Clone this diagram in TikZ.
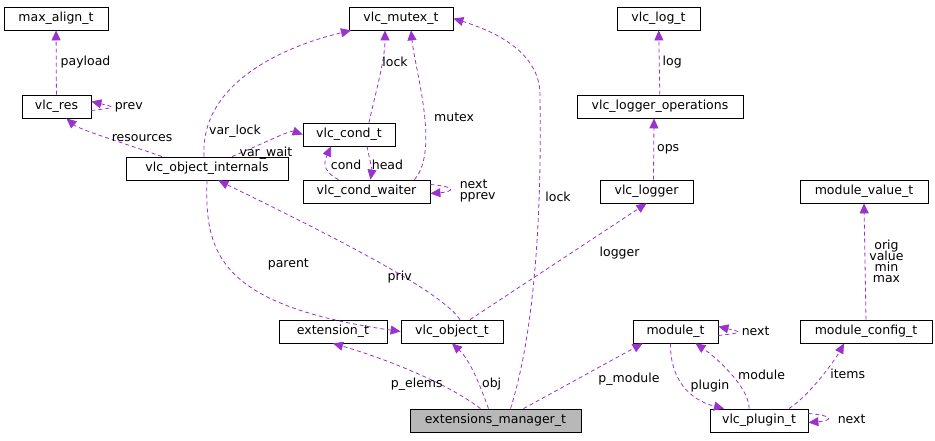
\documentclass[tikz,border=0pt]{standalone}
\usepackage{fontspec}
\setmainfont{DejaVu Sans}
\usetikzlibrary{arrows.meta}
\definecolor{edge}{HTML}{9A32CD}
\begin{document}
\begin{tikzpicture}[x=1pt,y=-1pt,
  every node/.style={font=\fontsize{12.5}{14}\selectfont},
  box/.style={draw=black,fill=white,minimum height=23,inner sep=0,line width=0.8},
  e/.style={draw=edge,dashed,dash pattern=on 4 off 3,line width=0.8,-{Triangle[length=10,width=9,fill=edge]}},
  lb/.style={inner sep=1,align=left,fill=none}]
\useasboundingbox (0,0) rectangle (935,441);
\node[box,minimum width=104] (max) at (56,18.5) {max\_align\_t};
\node[box,minimum width=104] (mutex) at (401,18.5) {vlc\_mutex\_t};
\node[box,minimum width=83] (log) at (658.5,18.5) {vlc\_log\_t};
\node[box,minimum width=69] (res) at (56.5,106.5) {vlc\_res};
\node[box,minimum width=92] (cond) at (349,134.5) {vlc\_cond\_t};
\node[box,minimum width=166] (lops) at (660,106.5) {vlc\_logger\_operations};
\node[box,minimum width=162] (oint) at (207,168.5) {vlc\_object\_internals};
\node[box,minimum width=127] (waiter) at (366.5,191.5) {vlc\_cond\_waiter};
\node[box,minimum width=93] (logger) at (646.5,191.5) {vlc\_logger};
\node[box,minimum width=128] (mval) at (864,191.5) {module\_value\_t};
\node[box,minimum width=108] (ext) at (333,331.5) {extension\_t};
\node[box,minimum width=102] (obj) at (452,331.5) {vlc\_object\_t};
\node[box,minimum width=85] (mod) at (675.5,331.5) {module\_t};
\node[box,minimum width=132] (mcfg) at (866,331.5) {module\_config\_t};
\node[box,minimum width=171,fill=black!28] (em) at (495.5,420.5) {extensions\_manager\_t};
\node[box,minimum width=98] (plug) at (759,420.5) {vlc\_plugin\_t};

\draw[e] (res) -- node[lb,right,xshift=3] {payload} (max);
\draw[e] ([yshift=-4]res.east) .. controls +(25,-3) and +(25,6) .. ([yshift=5]res.east) node[lb,right,xshift=22,yshift=-6] {prev};
\draw[e] ([xshift=-45]oint.north) .. controls (130,145) and (80,130) .. ([xshift=10]res.south) node[lb,pos=0.35,above,xshift=18] {resources};
\draw[e] ([xshift=-3]oint.north) .. controls (200,80) and (290,45) .. ([xshift=-50]mutex.south) node[lb,at={(235,131)}] {var\_lock};
\draw[e] ([xshift=25]oint.north) .. controls (260,145) and (290,130) .. (cond.west) node[lb,at={(266,153)}] {var\_wait};
\draw[e] ([xshift=20]cond.north) .. controls (375,95) and (385,60) .. ([xshift=-16]mutex.south) node[lb,at={(395,62)}] {lock};
\draw[e] ([xshift=-28]waiter.north) .. controls (320,170) and (325,160) .. ([xshift=-18]cond.south) node[lb,pos=0.5,right,xshift=4] {cond};
\draw[e] ([xshift=18]cond.south) .. controls (370,160) and (372,170) .. ([xshift=4]waiter.north) node[lb,pos=0.5,right] {head};
\draw[e] ([xshift=48]waiter.north) .. controls (440,150) and (415,70) .. ([xshift=10]mutex.south) node[lb,pos=0.45,right,xshift=8] {mutex};
\draw[e] ([yshift=7]waiter.east) .. controls +(25,2) and +(25,-2) .. ([yshift=-2]waiter.east) node[lb,right,xshift=28,yshift=3,align=left] {next\\[-3pt]pprev};
\draw[e] ([xshift=0]oint.south) .. controls (205,250) and (215,305) .. (obj.west) node[lb,pos=0.45,right,xshift=40] {parent};
\draw[e] ([xshift=8]obj.north) .. controls (440,290) and (330,235) .. ([xshift=-70]oint.south east) node[lb,pos=0.35,above,xshift=-10,yshift=-4] {priv};
\draw[e] ([xshift=18]obj.north) -- node[lb,pos=0.5,right,xshift=40,yshift=8] {logger} (logger.south);
\draw[e] ([xshift=7]logger.north) -- node[lb,right,xshift=2] {ops} ([xshift=-6]lops.south);
\draw[e] (lops) -- node[lb,right,xshift=2] {log} (log);
\draw[e] ([xshift=-15]em.north) .. controls (450,385) and (390,360) .. (ext.south) node[lb,pos=0.35,left,xshift=5] {p\_elems};
\draw[e] ([xshift=-7]em.north) .. controls (480,385) and (470,360) .. (obj.south) node[lb,pos=0.35,right,xshift=2] {obj};
\draw[e] ([xshift=15]em.north) .. controls (545,300) and (540,120) .. (540,95) .. controls (540,50) and (490,30) .. (mutex.east) node[lb,at={(558,197)}] {lock};
\draw[e] ([xshift=28]em.north) -- node[lb,pos=0.45,right,xshift=20] {p\_module} ([xshift=10]mod.south west);
\draw[e] ([yshift=-4]mod.east) .. controls +(25,-3) and +(25,6) .. ([yshift=5]mod.east) node[lb,right,xshift=22,yshift=-5] {next};
\draw[e] ([xshift=-5]mod.south) .. controls (670,380) and (690,400) .. ([xshift=-35]plug.north) node[lb,pos=0.5,right,xshift=5] {plugin};
\draw[e] ([xshift=-10]plug.north) .. controls (750,390) and (720,360) .. ([xshift=20]mod.south) node[lb,pos=0.5,right,xshift=5] {module};
\draw[e] ([xshift=30]plug.north) .. controls (810,395) and (835,360) .. ([xshift=-22]mcfg.south) node[lb,pos=0.55,right,xshift=5] {items};
\draw[e] ([yshift=7]plug.east) .. controls +(25,2) and +(25,-2) .. ([yshift=-2]plug.east) node[lb,right,xshift=28,yshift=3] {next};
\draw[e] (mcfg.north) -- node[lb,align=center,right,xshift=3] {orig\\[-3pt]value\\[-3pt]min\\[-3pt]max} (mval.south);
\end{tikzpicture}
\end{document}
